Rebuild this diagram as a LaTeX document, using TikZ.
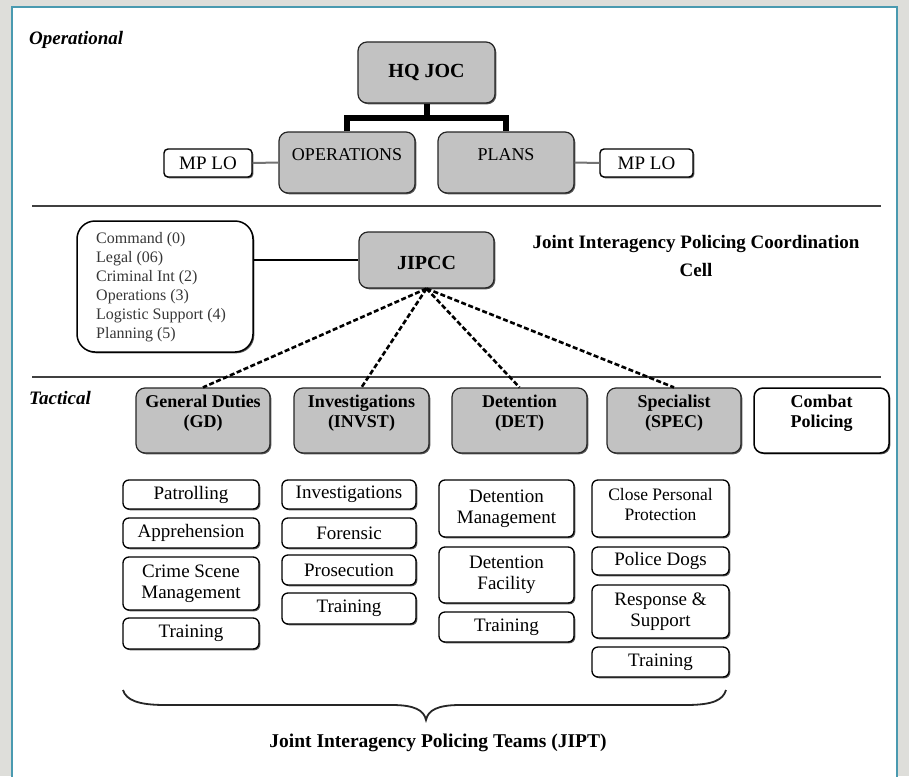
\documentclass[tikz,border=0pt]{standalone}
\usepackage{fontspec}
\setmainfont{Liberation Serif}
\usetikzlibrary{shadows}
\definecolor{bgtex}{RGB}{222,222,218}
\definecolor{panelborder}{RGB}{74,154,176}
\definecolor{boxgray}{RGB}{194,194,194}
\definecolor{listtext}{RGB}{55,55,55}
\newcommand\mkbox[7]{\node[#2, minimum width={(#5)-(#3)}, minimum height={(#6)-(#4)}] (#1) at ({((#3)+(#5))/2},{((#4)+(#6))/2}) {#7};}
\begin{document}
\begin{tikzpicture}[x=1pt,y=-1pt,
  shad/.style={drop shadow={shadow xshift=1.3pt, shadow yshift=-1.3pt, fill=black!65, opacity=1}},
  graybox/.style={draw=black!85, line width=1.2pt, fill=boxgray, rounded corners=9pt, shad, inner sep=0pt},
  whitebox/.style={draw=black, line width=1.5pt, fill=white, rounded corners=9pt, shad, inner sep=0pt},
  listbox/.style={draw=black, line width=1.5pt, fill=white, rounded corners=18pt, shad, inner sep=0pt},
  lobox/.style={draw=black, line width=1.4pt, fill=white, rounded corners=4pt, shad, inner sep=0pt, font=\fontsize{19}{21}\selectfont},
  subbox/.style={draw=black, line width=1.3pt, fill=white, rounded corners=6pt, shad, inner sep=0pt, align=center, font=\fontsize{19}{21}\selectfont},
  sechead/.style={font=\bfseries\itshape\fontsize{19}{21}\selectfont, inner sep=0pt, anchor=west},
  regtxt/.style={font=\fontsize{18}{20}\selectfont, inner sep=0pt},
  boldtxt/.style={font=\bfseries\fontsize{19}{28}\selectfont, inner sep=0pt, align=center},
  tacttxt/.style={font=\bfseries\fontsize{18}{20}\selectfont, inner sep=0pt, align=center},
  listtxt/.style={font=\fontsize{16}{19}\selectfont, text=listtext, inner sep=0pt, anchor=base west},
  sepline/.style={draw=black!75, line width=2pt},
  thickconn/.style={draw=black, line width=6pt},
  loconn/.style={draw=black!55, line width=2pt},
  solidconn/.style={draw=black, line width=2pt},
  dashconn/.style={draw=black, line width=2.6pt, dash pattern=on 5pt off 2.5pt},
  braceline/.style={draw=black!85, line width=1.8pt}]
\useasboundingbox (0,0) rectangle (909,776);
\fill[bgtex] (0,0) rectangle (909,776);
\draw[panelborder, line width=2pt, fill=white] (12,7) rectangle (897,790);

% ---------- Operational ----------
\node[sechead] (opl) at (29,40) {Operational};
\mkbox{hq}{graybox}{358}{42}{495}{103}{}
\node[font=\bfseries\fontsize{20}{22}\selectfont, inner sep=0pt] (hqt) at (426.5,72) {HQ JOC};
\mkbox{ops}{graybox}{279}{132}{415}{193}{}
\node[regtxt] (opst) at (347,155) {OPERATIONS};
\mkbox{plans}{graybox}{438}{132}{574}{193}{}
\node[regtxt] (planst) at (506,155) {PLANS};
\mkbox{mpl}{lobox}{164}{149}{252}{177}{MP LO}
\mkbox{mpr}{lobox}{600}{149}{693}{177}{MP LO}
\coordinate (bar) at (426.5,118);
\draw[thickconn] (hq.south) -- (bar);
\draw[thickconn, line join=miter] (ops.north) |- (bar) -| (plans.north);
\draw[loconn] (mpl.east) -- (ops.west);
\draw[loconn] (plans.east) -- (mpr.west);
\draw[sepline] (32,206) -- (881,206);

% ---------- JIPCC ----------
\mkbox{list}{listbox}{77}{221}{253}{352}{}
\foreach \t [count=\i] in {Command (0),Legal (06),Criminal Int (2),Operations (3),Logistic Support (4),Planning (5)}
  \node[listtxt] (list\i) at (96,{243.5+19*(\i-1)}) {\t};
\mkbox{jipcc}{graybox}{359}{232}{494}{288}{}
\node[font=\bfseries\fontsize{20}{22}\selectfont, inner sep=0pt] (jipcct) at (426.5,263) {JIPCC};
\draw[solidconn] (list.east |- jipcc.west) -- (jipcc.west);
\node[boldtxt] (title) at (696,256) {Joint Interagency Policing Coordination\\Cell};
\draw[sepline] (32,377) -- (881,377);

% ---------- Tactical ----------
\node[sechead] (tac) at (29,398) {Tactical};
\mkbox{gd}{graybox}{136}{388}{270}{453}{}
\node[tacttxt] (gdt) at (203,413) {General Duties\\(GD)};
\mkbox{inv}{graybox}{294}{388}{429}{453}{}
\node[tacttxt] (invt) at (361.5,413) {Investigations\\(INVST)};
\mkbox{det}{graybox}{452}{388}{587}{453}{}
\node[tacttxt] (dett) at (519.5,413) {Detention\\(DET)};
\mkbox{spec}{graybox}{607}{388}{741}{453}{}
\node[tacttxt] (spect) at (674,413) {Specialist\\(SPEC)};
\mkbox{cp}{whitebox}{754}{388}{889}{453}{}
\node[tacttxt] (cpt) at (821.5,413) {Combat\\Policing};

\draw[dashconn] (jipcc.south) -- (gd.north);
\draw[dashconn] (jipcc.south) -- (inv.north);
\draw[dashconn] (jipcc.south) -- (det.north);
\draw[dashconn] (jipcc.south) -- (spec.north);

% column 1
\mkbox{c1a}{subbox}{123}{480}{259}{509}{Patrolling}
\mkbox{c1b}{subbox}{123}{518}{259}{548}{Apprehension}
\mkbox{c1c}{subbox}{123}{557}{259}{610}{Crime Scene\\Management}
\mkbox{c1d}{subbox}{123}{618}{259}{649}{Training}
% column 2
\mkbox{c2a}{subbox}{282}{480}{416}{509}{Investigations}
\mkbox{c2b}{subbox}{282}{518}{416}{548}{Forensic}
\mkbox{c2c}{subbox}{282}{555}{416}{585}{Prosecution}
\mkbox{c2d}{subbox}{282}{593}{416}{624}{Training}
% column 3
\mkbox{c3a}{subbox}{439}{480}{574}{537}{Detention\\Management}
\mkbox{c3b}{subbox}{439}{547}{574}{603}{Detention\\Facility}
\mkbox{c3c}{subbox}{439}{612}{574}{642}{Training}
% column 4
\mkbox{c4a}{subbox}{592}{480}{729}{537}{}
\node[font=\fontsize{17.5}{20}\selectfont, inner sep=0pt, align=center] (c4at) at (660.5,505) {Close Personal\\Protection};
\mkbox{c4b}{subbox}{592}{547}{729}{575}{Police Dogs}
\mkbox{c4c}{subbox}{592}{585}{729}{638}{Response \&\\Support}
\mkbox{c4d}{subbox}{592}{647}{729}{677}{Training}

% brace
\draw[braceline] (123,690) .. controls (126,700) and (138,705) .. (165,705) -- (392,705)
  .. controls (414,705) and (424,710) .. (426,720)
  .. controls (428,710) and (438,705) .. (460,705) -- (686,705)
  .. controls (713,705) and (723,700) .. (726,690);
\node[font=\bfseries\fontsize{19.5}{22}\selectfont, inner sep=0pt] (jipt) at (438,743) {Joint Interagency Policing Teams (JIPT)};
\end{tikzpicture}
\end{document}
